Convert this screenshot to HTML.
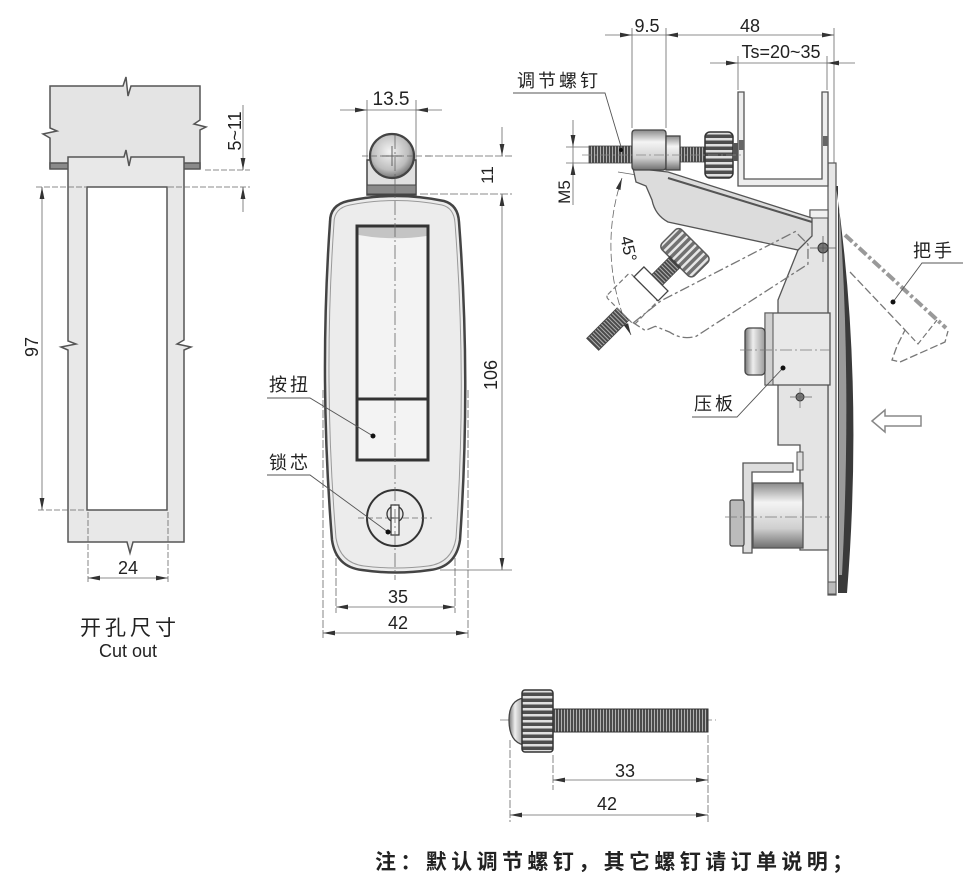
<!DOCTYPE html>
<html><head><meta charset="utf-8">
<style>
html,body{margin:0;padding:0;background:#fff;}
svg{display:block;}
text{font-family:"Liberation Sans","Noto Sans CJK SC",sans-serif;fill:#222;}
</style></head>
<body>
<svg width="973" height="883" viewBox="0 0 973 883" xmlns="http://www.w3.org/2000/svg">
<defs>
<marker id="ar" viewBox="0 0 12 6" refX="12" refY="3" markerWidth="12" markerHeight="6" markerUnits="userSpaceOnUse" orient="auto-start-reverse"><path d="M0,0.6 L12,3 L0,5.4 Z" fill="#333"/></marker>
<linearGradient id="cyl" x1="0" y1="0" x2="0" y2="1"><stop offset="0" stop-color="#8a8a8a"/><stop offset="0.3" stop-color="#f4f4f4"/><stop offset="0.7" stop-color="#cfcfcf"/><stop offset="1" stop-color="#6f6f6f"/></linearGradient>
<linearGradient id="cylh" x1="0" y1="0" x2="1" y2="0"><stop offset="0" stop-color="#777"/><stop offset="0.4" stop-color="#eee"/><stop offset="1" stop-color="#999"/></linearGradient>
<radialGradient id="ball" cx="0.45" cy="0.4" r="0.6"><stop offset="0" stop-color="#f4f4f4"/><stop offset="0.7" stop-color="#bdbdbd"/><stop offset="1" stop-color="#777"/></radialGradient>
<pattern id="thr" width="3" height="10" patternUnits="userSpaceOnUse"><rect width="3" height="10" fill="#4a4a4a"/><rect width="1" height="10" fill="#b0b0b0"/></pattern>
<pattern id="kn" width="10" height="6" patternUnits="userSpaceOnUse"><rect width="10" height="6" fill="#4e4e4e"/><rect width="10" height="2.5" fill="#e0e0e0"/></pattern>
</defs>

<!-- ============ LEFT: CUT OUT ============ -->
<g stroke="#555" stroke-width="1.5">
<path d="M50,86 L123,86 L126,77 L128,96 L131,86 L200,86 L200,120 L194,124 L206,127 L200,130 L200,168 L50,168 L50,138 L43,134 L57,131 L50,128 Z" fill="#e4e4e4"/>
<rect x="50" y="163" width="150" height="6" fill="#8a8a8a"/>
<path d="M68,157 L124,157 L126,150 L129,166 L131,157 L184,157 L184,340 L177,344 L191,347 L184,350 L184,542 L133,542 L130,553 L127,542 L68,542 L68,350 L61,347 L76,344 L68,341 Z" fill="#e8e8e8"/>
<rect x="87" y="187" width="80" height="323" fill="#fff"/>
</g>
<g stroke="#666" stroke-width="0.8" fill="none">
<line x1="36" y1="187" x2="86" y2="187" stroke-dasharray="6,2"/>
<line x1="38" y1="510" x2="86" y2="510" stroke-dasharray="6,2"/>
<line x1="42" y1="187" x2="42" y2="510" marker-start="url(#ar)" marker-end="url(#ar)"/>
<line x1="205" y1="170" x2="250" y2="170" stroke-dasharray="6,2"/>
<line x1="168" y1="187" x2="250" y2="187" stroke-dasharray="6,2"/>
<line x1="243" y1="105" x2="243" y2="170" marker-end="url(#ar)"/>
<line x1="243" y1="212" x2="243" y2="187" marker-end="url(#ar)"/>
<line x1="88" y1="512" x2="88" y2="584" stroke-dasharray="6,2"/>
<line x1="168" y1="512" x2="168" y2="584" stroke-dasharray="6,2"/>
<line x1="88" y1="578" x2="168" y2="578" marker-start="url(#ar)" marker-end="url(#ar)"/>
</g>
<text transform="translate(38,347) rotate(-90)" text-anchor="middle" font-size="18">97</text>
<text transform="translate(241,131) rotate(-90)" text-anchor="middle" font-size="18">5~11</text>
<text x="128" y="574" text-anchor="middle" font-size="18">24</text>
<text x="130" y="635" text-anchor="middle" font-size="21" letter-spacing="4">开孔尺寸</text>
<text x="128" y="657" text-anchor="middle" font-size="18">Cut out</text>

<!-- ============ CENTER: FRONT VIEW ============ -->
<g stroke="#666" stroke-width="0.8" fill="none">
<line x1="367" y1="100" x2="367" y2="165"/>
<line x1="416" y1="100" x2="416" y2="165"/>
<line x1="340" y1="110" x2="367" y2="110" marker-end="url(#ar)"/>
<line x1="367" y1="110" x2="416" y2="110"/>
<line x1="442" y1="110" x2="416" y2="110" marker-end="url(#ar)"/>
<line x1="425" y1="156" x2="512" y2="156" stroke-dasharray="8,2"/>
<line x1="420" y1="194" x2="512" y2="194" stroke-dasharray="8,2"/>
<line x1="440" y1="570" x2="512" y2="570"/>
<line x1="502" y1="127" x2="502" y2="156" marker-end="url(#ar)"/>
<line x1="502" y1="194" x2="502" y2="570" marker-start="url(#ar)" marker-end="url(#ar)"/>
<line x1="336" y1="548" x2="336" y2="613" stroke-dasharray="8,2"/>
<line x1="455" y1="548" x2="455" y2="613" stroke-dasharray="8,2"/>
<line x1="336" y1="607" x2="455" y2="607" marker-start="url(#ar)" marker-end="url(#ar)"/>
<line x1="323" y1="390" x2="323" y2="640" stroke-dasharray="8,2"/>
<line x1="468" y1="390" x2="468" y2="640" stroke-dasharray="8,2"/>
<line x1="323" y1="633" x2="468" y2="633" marker-start="url(#ar)" marker-end="url(#ar)"/>
</g>
<!-- knob -->
<rect x="367" y="160" width="49" height="35" fill="#e0e0e0" stroke="#444" stroke-width="1.5"/>
<rect x="367" y="185" width="49" height="9" fill="#8a8a8a" stroke="#444" stroke-width="1"/>
<circle cx="392" cy="156" r="22" fill="url(#ball)" stroke="#444" stroke-width="2.2"/>
<g stroke="#555" stroke-width="0.9"><line x1="382" y1="156" x2="402" y2="156"/><line x1="392" y1="146" x2="392" y2="166"/></g>
<!-- body -->
<path d="M330,222 Q330,205 348,201 Q396,191 444,201 Q458,205 459,222 Q471,380 460,540 Q456,567 430,570 Q396,575 362,570 Q336,567 332,540 Q319,380 330,222 Z" fill="#ececec" stroke="#444" stroke-width="2.5"/>
<path d="M334,223 Q334,208 350,205 Q396,196 442,205 Q454,208 455,223 Q467,380 456,538 Q452,563 428,566 Q396,570 364,566 Q340,563 336,538 Q323,380 334,223 Z" fill="none" stroke="#999" stroke-width="1"/>
<rect x="357" y="226" width="71" height="234" fill="#f3f3f3" stroke="#333" stroke-width="3"/>
<path d="M358.5,227.5 L426.5,227.5 L426.5,236 Q392,241 358.5,235 Z" fill="#c4c4c4"/>
<line x1="357" y1="399" x2="428" y2="399" stroke="#333" stroke-width="3"/>
<!-- lock -->
<circle cx="395" cy="518" r="28" fill="#ececec" stroke="#333" stroke-width="2"/>
<circle cx="395" cy="514" r="8" fill="#e6e6e6" stroke="#333" stroke-width="1.3"/>
<rect x="391" y="505" width="8" height="30" fill="#f4f4f4" stroke="#333" stroke-width="1.2"/>
<line x1="391" y1="518" x2="399" y2="518" stroke="#333"/>
<g stroke="#666" stroke-width="0.8" fill="none">
<line x1="395" y1="135" x2="395" y2="580" stroke-dasharray="14,3,2,3"/>
<line x1="362" y1="156" x2="432" y2="156" stroke-dasharray="6,3"/>
<line x1="358" y1="518" x2="432" y2="518" stroke-dasharray="6,3"/>
</g>
<text x="269" y="391" font-size="18" letter-spacing="3">按扭</text>
<polyline points="267,398 310,398 373,436" fill="none" stroke="#555" stroke-width="0.9"/>
<circle cx="373" cy="436" r="2.5" fill="#111"/>
<text x="269" y="469" font-size="18" letter-spacing="3">锁芯</text>
<polyline points="267,475 310,475 388,532" fill="none" stroke="#555" stroke-width="0.9"/>
<circle cx="388" cy="532" r="2.5" fill="#111"/>
<text x="391" y="105" text-anchor="middle" font-size="19">13.5</text>
<text transform="translate(493,175) rotate(-90)" text-anchor="middle" font-size="17">11</text>
<text transform="translate(497,375) rotate(-90)" text-anchor="middle" font-size="18">106</text>
<text x="398" y="603" text-anchor="middle" font-size="18">35</text>
<text x="398" y="629" text-anchor="middle" font-size="18">42</text>

<!-- ============ RIGHT: SIDE VIEW ============ -->
<g stroke="#666" stroke-width="0.8" fill="none">
<line x1="632" y1="28" x2="632" y2="128"/>
<line x1="666" y1="28" x2="666" y2="128"/>
<line x1="834" y1="28" x2="834" y2="165"/>
<line x1="738" y1="56" x2="738" y2="90"/>
<line x1="827" y1="56" x2="827" y2="90"/>
<line x1="605" y1="35" x2="632" y2="35" marker-end="url(#ar)"/>
<line x1="632" y1="35" x2="666" y2="35"/>
<line x1="834" y1="35" x2="666" y2="35" marker-start="url(#ar)" marker-end="url(#ar)"/>
<line x1="710" y1="63" x2="738" y2="63" marker-end="url(#ar)"/>
<line x1="738" y1="63" x2="827" y2="63"/>
<line x1="855" y1="63" x2="827" y2="63" marker-end="url(#ar)"/>
<line x1="573" y1="120" x2="573" y2="147" marker-end="url(#ar)"/>
<line x1="573" y1="147" x2="573" y2="163"/>
<line x1="573" y1="205" x2="573" y2="163" marker-end="url(#ar)"/>
<line x1="566" y1="147" x2="592" y2="147"/>
<line x1="566" y1="163" x2="592" y2="163"/>
<line x1="618" y1="172" x2="668" y2="180"/>
<path d="M622,178 A210,210 0 0,0 631,335" stroke-dasharray="8,3" marker-start="url(#ar)" marker-end="url(#ar)"/>
</g>
<text x="647" y="32" text-anchor="middle" font-size="18">9.5</text>
<text x="750" y="32" text-anchor="middle" font-size="18">48</text>
<text x="781" y="58" text-anchor="middle" font-size="18">Ts=20~35</text>
<text transform="translate(570,192) rotate(-90)" text-anchor="middle" font-size="17">M5</text>
<text transform="translate(623,250) rotate(78)" text-anchor="middle" font-size="17">45°</text>

<path d="M836,186 Q864,380 847,593 L838,593 L838,186 Z" fill="#3a3a3a"/>
<path d="M839,205 Q852,380 842,575 L839,575 Z" fill="#9a9a9a"/>
<rect x="828" y="163" width="8" height="432" fill="#e6e6e6" stroke="#555" stroke-width="1.2"/>
<rect x="828" y="582" width="8" height="12" fill="#bbb" stroke="#555" stroke-width="1"/>
<path d="M810,210 L828,210 L828,550 L800,550 L800,445 L778,445 L778,300 L798,250 L810,236 Z" fill="#e4e4e4" stroke="#555" stroke-width="1.3"/>
<rect x="810" y="210" width="18" height="8" fill="#f0f0f0" stroke="#555" stroke-width="1"/>
<path d="M738,92 L744,92 L744,179 L822,179 L822,92 L828,92 L828,186 L738,186 Z" fill="#eee" stroke="#555" stroke-width="1.3"/>
<rect x="739" y="140" width="5" height="10" fill="#666"/>
<rect x="823" y="136" width="5" height="10" fill="#666"/>
<path d="M633,168 L668,172 L812,218 L812,236 L798,250 L668,222 Q655,215 652,200 L646,186 L636,182 Z" fill="#dcdcdc" stroke="#555" stroke-width="1.3"/>
<line x1="668" y1="178" x2="812" y2="222" stroke="#555" stroke-width="2"/>
<circle cx="823" cy="248" r="5" fill="#777" stroke="#333"/>
<g stroke="#555" stroke-width="0.8"><line x1="810" y1="248" x2="836" y2="248"/><line x1="823" y1="236" x2="823" y2="262"/></g>
<rect x="589" y="146" width="43" height="17" fill="url(#thr)" stroke="#444" stroke-width="0.8"/>
<rect x="632" y="130" width="34" height="40" rx="3" fill="url(#cyl)" stroke="#444" stroke-width="1.3"/>
<rect x="666" y="136" width="14" height="34" fill="url(#cyl)" stroke="#444" stroke-width="1.3"/>
<rect x="680" y="147" width="26" height="15" fill="url(#thr)" stroke="#444" stroke-width="0.8"/>
<rect x="705" y="132" width="28" height="46" rx="5" fill="url(#kn)" stroke="#333" stroke-width="1.5"/>
<rect x="733" y="143" width="5" height="18" fill="#555"/>
<line x1="582" y1="155" x2="742" y2="155" stroke="#888" stroke-width="0.7" stroke-dasharray="10,3,2,3"/>
<g transform="rotate(-45 820 245)">
<path d="M633,168 L668,172 L812,218 L812,236 L798,250 L668,222 Q655,215 652,200 L646,186 L636,182 Z" fill="none" stroke="#777" stroke-width="1.3" stroke-dasharray="10,3,3,3"/>
<rect x="589" y="146" width="43" height="17" fill="url(#thr)" stroke="#444" stroke-width="0.8"/>
<rect x="632" y="130" width="34" height="40" rx="3" fill="none" stroke="#777" stroke-width="1.2" stroke-dasharray="5,3"/>
<rect x="666" y="136" width="14" height="34" fill="#fff" stroke="#444" stroke-width="1.3"/>
<rect x="680" y="147" width="26" height="15" fill="url(#thr)" stroke="#444" stroke-width="0.8"/>
<rect x="705" y="132" width="28" height="46" rx="5" fill="url(#kn)" stroke="#333" stroke-width="1.5" opacity="0.8"/>
</g>
<rect x="765" y="313" width="65" height="72" fill="#e8e8e8" stroke="#555" stroke-width="1.3"/>
<rect x="765" y="313" width="8" height="72" fill="#d0d0d0" stroke="#555" stroke-width="1"/>
<rect x="745" y="328" width="20" height="47" rx="4" fill="url(#cylh)" stroke="#444" stroke-width="1.3"/>
<line x1="740" y1="350" x2="830" y2="350" stroke="#777" stroke-width="0.8" stroke-dasharray="12,3,2,3"/>
<circle cx="800" cy="397" r="4" fill="#777" stroke="#333"/>
<g stroke="#666" stroke-width="0.7"><line x1="790" y1="397" x2="812" y2="397"/><line x1="800" y1="388" x2="800" y2="408"/></g>
<rect x="797" y="452" width="6" height="18" fill="#ddd" stroke="#555"/>
<path d="M743,463 L793,463 L793,472 L752,472 L752,553 L743,553 Z" fill="#ddd" stroke="#555" stroke-width="1.3"/>
<rect x="753" y="483" width="50" height="65" fill="url(#cyl)" stroke="#555" stroke-width="1.3"/>
<rect x="730" y="500" width="14" height="46" rx="2" fill="#bbb" stroke="#444" stroke-width="1.2"/>
<line x1="725" y1="517" x2="830" y2="517" stroke="#777" stroke-width="0.8" stroke-dasharray="12,3,2,3"/>
<path d="M845,235 L946,328" stroke="#999" stroke-width="4" stroke-dasharray="10,3,3,3" fill="none"/>
<path d="M850,272 L905,330 L897,346 L892,360 L900,362 L945,342 L948,331" stroke="#777" stroke-width="1.3" stroke-dasharray="8,3" fill="none"/>
<path d="M905,330 L918,344 L937,320" stroke="#777" stroke-width="1.2" stroke-dasharray="6,3" fill="none"/>
<path d="M872,421 L885,410 L885,416 L921,416 L921,426 L885,426 L885,432 Z" fill="#fff" stroke="#888" stroke-width="1.5"/>
<text x="517" y="87" font-size="18" letter-spacing="3">调节螺钉</text>
<polyline points="513,93 605,93 622,150" fill="none" stroke="#555" stroke-width="0.9"/>
<circle cx="621" cy="150" r="2" fill="#111"/>
<text x="913" y="257" font-size="18" letter-spacing="3">把手</text>
<polyline points="963,263 922,263 893,302" fill="none" stroke="#555" stroke-width="0.9"/>
<circle cx="893" cy="302" r="2.5" fill="#111"/>
<text x="694" y="410" font-size="18" letter-spacing="3">压板</text>
<polyline points="692,417 737,417 783,368" fill="none" stroke="#555" stroke-width="0.9"/>
<circle cx="783" cy="368" r="2.5" fill="#111"/>

<!-- ============ BOTTOM SCREW ============ -->
<line x1="500" y1="720" x2="716" y2="720" stroke="#777" stroke-width="0.8" stroke-dasharray="12,3,2,3"/>
<path d="M524,698 Q509,700 509,720 Q509,742 524,745 Z" fill="url(#cylh)" stroke="#444" stroke-width="1.3"/>
<rect x="522" y="690" width="31" height="62" rx="3" fill="url(#kn)" stroke="#333" stroke-width="1.5"/>
<rect x="553" y="709" width="155" height="23" fill="url(#thr)" stroke="#333" stroke-width="1"/>
<g stroke="#666" stroke-width="0.8" fill="none">
<line x1="553" y1="755" x2="553" y2="790" stroke-dasharray="8,2"/>
<line x1="708" y1="735" x2="708" y2="822" stroke-dasharray="8,2"/>
<line x1="510" y1="740" x2="510" y2="822" stroke-dasharray="8,2"/>
<line x1="553" y1="780" x2="708" y2="780" marker-start="url(#ar)" marker-end="url(#ar)"/>
<line x1="510" y1="815" x2="708" y2="815" marker-start="url(#ar)" marker-end="url(#ar)"/>
</g>
<text x="625" y="777" text-anchor="middle" font-size="18">33</text>
<text x="607" y="810" text-anchor="middle" font-size="18">42</text>

<text x="375" y="869" font-size="21" font-weight="bold" letter-spacing="4.4">注：默认调节螺钉，其它螺钉请订单说明；</text>
</svg>
</body></html>
